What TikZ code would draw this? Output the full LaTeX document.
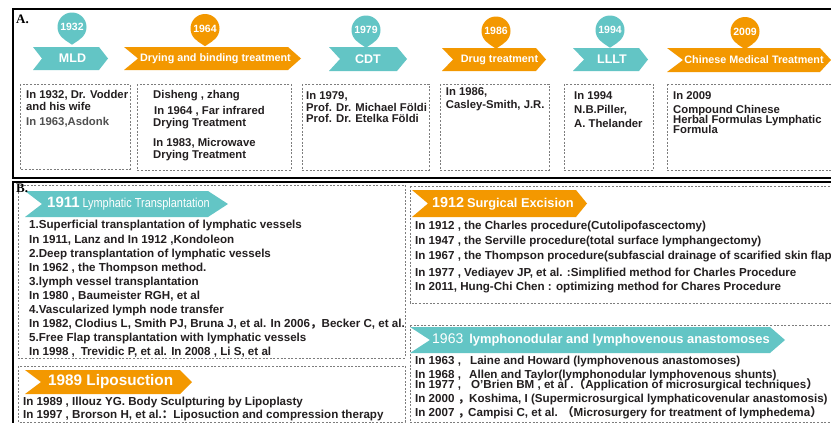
\documentclass[tikz,border=0pt]{standalone}
\usepackage{fontspec}
\setmainfont{Liberation Sans}
\newfontfamily\serifbf{Liberation Serif}
\newfontfamily\cjk{Noto Sans CJK SC}
\usepackage{tikz}

\definecolor{tealc}{RGB}{99,197,197}
\definecolor{orangec}{RGB}{243,152,0}
\definecolor{dashc}{RGB}{125,125,125}
\definecolor{inkc}{RGB}{35,31,32}
\definecolor{softc}{RGB}{80,80,80}

\newcommand{\tightlines}{\lineskiplimit-20pt\relax}

\tikzstyle{frame} = [black,line width=1.6pt]
\tikzstyle{dashbox} = [dashc,line width=0.8pt,dash pattern=on 2pt off 1.6pt]
\tikzstyle{yearpin} = [circle,inner sep=0pt,minimum size=29pt,text=white,font=\fontsize{10.5}{12}\selectfont\bfseries]
\tikzstyle{bantext} = [text=white,inner sep=0pt,font=\fontsize{10.8}{12}\selectfont\bfseries]
\tikzstyle{bigban} = [text=white,inner sep=0pt,font=\fontsize{12.5}{14}\selectfont\bfseries]
\tikzstyle{bantitle} = [anchor=west,text=white,inner sep=0pt]
% multi-line nodes sit on the baseline of their last line
\tikzstyle{boxtext} = [anchor=base west,align=left,inner sep=0pt,text=inkc,font={\fontsize{11.3}{12}\selectfont\bfseries\tightlines}]
\tikzstyle{listtext} = [anchor=base west,align=left,inner sep=0pt,text=inkc,font={\fontsize{11.6}{14.1}\selectfont\bfseries\tightlines}]

% x0, x1, top, bottom, notch, tip, colour
\newcommand{\ribbon}[7]{\fill[#7] (#1,#3) -- ({#2-#6},#3) -- (#2,{(#3+#4)/2}) -- ({#2-#6},#4) -- (#1,#4) -- ({#1+#5},{(#3+#4)/2}) -- cycle;}
\newcommand{\fw}[1]{{\cjk #1}}

\begin{document}
\begin{tikzpicture}[x=1pt,y=-1pt]

\fill[white] (0,0) rectangle (831,423);
\useasboundingbox (0,0) rectangle (831,423);

% panel A
\draw[frame] (13,9) rectangle (845,178);

\ribbon{33}{108}{47}{70}{9}{9}{tealc}
\ribbon{124}{301}{47}{70}{14}{13}{orangec}
\ribbon{329}{407}{47}{71}{11}{10}{tealc}
\ribbon{442}{546}{48}{71}{11}{10}{orangec}
\ribbon{573}{648}{48}{71}{11}{9}{tealc}
\ribbon{667}{831}{48}{72}{16}{11}{orangec}

\node (mld) [bigban] at (72.5,58.5) {MLD};
\node (dry) [bantext] at (215.5,58.5) {Drying and binding treatment};
\node (cdt) [bigban] at (368,59.5) {CDT};
\node (drug) [bantext] at (499.5,59.5) {Drug treatment};
\node (lllt) [bigban] at (612,59.5) {LLLT};
\node (chin) [bantext] at (754,60) {Chinese Medical Treatment};

\node (p1932) [yearpin,fill=tealc] at (72,27) {1932};
\node (p1964) [yearpin,fill=orangec] at (205,28.5) {1964};
\node (p1979) [yearpin,fill=tealc] at (366,30) {1979};
\node (p1986) [yearpin,fill=orangec] at (496,31) {1986};
\node (p1994) [yearpin,fill=tealc] at (610,30) {1994};
\node (p2009) [yearpin,fill=orangec] at (745,31.5) {2009};
\fill[tealc] (p1932.-122) -- ([yshift=-3pt]p1932.south) -- (p1932.-58) -- cycle;
\fill[orangec] (p1964.-122) -- ([yshift=-3pt]p1964.south) -- (p1964.-58) -- cycle;
\fill[tealc] (p1979.-122) -- ([yshift=-3pt]p1979.south) -- (p1979.-58) -- cycle;
\fill[orangec] (p1986.-122) -- ([yshift=-3pt]p1986.south) -- (p1986.-58) -- cycle;
\fill[tealc] (p1994.-122) -- ([yshift=-3pt]p1994.south) -- (p1994.-58) -- cycle;
\fill[orangec] (p2009.-122) -- ([yshift=-3pt]p2009.south) -- (p2009.-58) -- cycle;

\draw[dashbox] (20,84) rectangle (130,169);
\draw[dashbox] (137,84) rectangle (291,170);
\draw[dashbox] (302,84) rectangle (429,170);
\draw[dashbox] (440,84) rectangle (549,170);
\draw[dashbox] (564,84) rectangle (653,170);
\draw[dashbox] (667,84) rectangle (845,170);

\node (a1) [boxtext] at (26,125.7) {In 1932, Dr. Vodder\\[-0.3pt] and his wife\\[3.7pt] \textcolor{softc}{In 1963,Asdonk}};
\node (a2) [boxtext] at (153,158.7) {Disheng , zhang\\[3.7pt] \hspace{1pt}In 1964 , Far infrared\\[0.3pt] Drying Treatment\\[8.4pt] In 1983, Microwave\\ Drying Treatment};
\node (a3) [boxtext] at (306,122.3) {In 1979,\\[-0.4pt] Prof. Dr. Michael Földi\\[-1pt] Prof. Dr. Etelka Földi};
\node (a4) [boxtext] at (445.7,108.3) {In 1986,\\[1.3pt] Casley-Smith, J.R.};
\node (a5) [boxtext] at (574,127.3) {In 1994\\[2pt] N.B.Piller,\\[2.3pt] A. Thelander};
\node (a6) [boxtext] at (673,133.3) {In 2009\\[1.3pt] Compound Chinese\\[-2pt] Herbal Formulas Lymphatic\\[-1.7pt] Formula};

\node (labA) [anchor=west,inner sep=0pt,font=\fontsize{13}{14}\selectfont\serifbf\bfseries] at (16,19) {A.};

% panel B
\draw[frame] (13,182) rectangle (845,440);

\draw[dashbox] (18,185) rectangle (405,358);
\draw[dashbox] (18,366) rectangle (405,422);
\draw[dashbox] (410,186) rectangle (845,303);
\draw[dashbox] (410,325) rectangle (845,422);

\ribbon{25}{228}{191}{217}{17}{20}{tealc}
\ribbon{25}{192}{370}{394}{16}{12}{orangec}
\ribbon{412}{587}{190}{217}{16}{11}{orangec}
\ribbon{410}{785}{327}{353}{20}{15}{tealc}

\node (t1911) [bantitle] at (47,204) {{\fontsize{15}{16}\selectfont\bfseries 1911} \scalebox{0.84}[1]{\fontsize{13}{14}\selectfont Lymphatic Transplantation}};
\node (t1989) [bantitle] at (48,382) {\fontsize{15.3}{16}\selectfont\bfseries 1989 Liposuction};
\node (t1912) [bantitle] at (432,203.5) {{\fontsize{14.4}{15}\selectfont\bfseries 1912} {\fontsize{12.8}{14}\selectfont\bfseries Surgical Excision}};
\node (t1963) [bantitle] at (432,340) {{\fontsize{14}{15}\selectfont 1963}\hspace{6pt}{\fontsize{12.9}{14}\selectfont\bfseries lymphonodular and lymphovenous anastomoses}};

\node (b1) [listtext] at (29,355.8) {1.Superficial transplantation of lymphatic vessels\\ In 1911, Lanz and In 1912 ,Kondoleon\\ 2.Deep transplantation of lymphatic vessels\\ In 1962 , the Thompson method.\\ 3.lymph vessel transplantation\\ In 1980 , Baumeister RGH, et al\\ 4.Vascularized lymph node transfer\\ In 1982, Clodius L, Smith PJ, Bruna J, et al. In 2006\fw{，}Becker C, et al.\\ 5.Free Flap transplantation with lymphatic vessels\\ In 1998 ,\enspace Trevidic P, et al. In 2008 , Li S, et al};
\node (b2) [listtext] at (23,418) {In 1989 , Illouz YG. Body Sculpturing by Lipoplasty\\[-1.1pt] In 1997 , Brorson H, et al.\fw{：}Liposuction and compression therapy};

\node (c1) [listtext] at (415,290.1) {In 1912 , the Charles procedure(Cutolipofascectomy)\\[0.2pt] In 1947 , the Serville procedure(total surface lymphangectomy)\\[0.9pt] In 1967 , the Thompson procedure(subfascial drainage of scarified skin flap)\\[3.2pt] In 1977 , Vediayev JP, et al. :Simplified method for Charles Procedure\\[-0.4pt] In 2011, Hung-Chi Chen : optimizing method for Chares Procedure};
\node (c2) [listtext] at (415,416.4) {\makebox[55pt][l]{In 1963 ,}Laine and Howard (lymphovenous anastomoses)\\[-0.1pt] \makebox[54pt][l]{In 1968 ,}Allen and Taylor(lymphonodular lymphovenous shunts)\\[-4.1pt] \makebox[56pt][l]{In 1977 ,}O’Brien BM , et al .\fw{（}Application of microsurgical techniques\fw{）}\\[0.2pt] \makebox[54pt][l]{In 2000 \fw{，}}Koshima, I (Supermicrosurgical lymphaticovenular anastomosis)\\[-0.1pt] \makebox[53pt][l]{In 2007 \fw{，}}Campisi C, et al. \fw{（}Microsurgery for treatment of lymphedema\fw{）}};

\node (labB) [anchor=west,inner sep=0pt,font=\fontsize{13}{14}\selectfont\serifbf\bfseries] at (16,188) {B.};

\end{tikzpicture}
\end{document}
